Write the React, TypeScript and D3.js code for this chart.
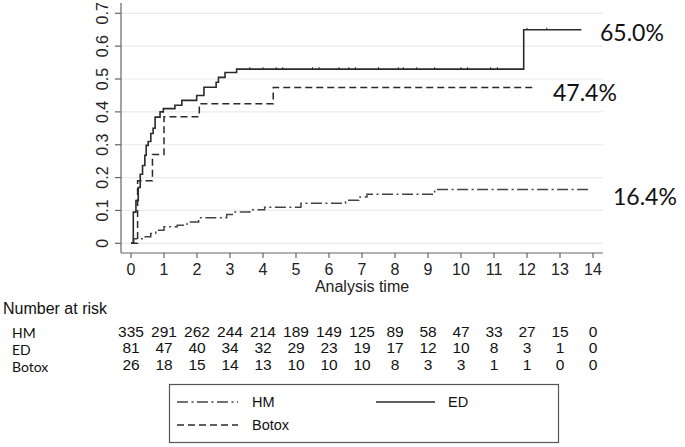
import React from "react";
import * as d3 from "d3";

// ---- Data ----
const xTicks = [0, 1, 2, 3, 4, 5, 6, 7, 8, 9, 10, 11, 12, 13, 14];
const yTicks = [0, 0.1, 0.2, 0.3, 0.4, 0.5, 0.6, 0.7];

const edTimes = [0, 0.07, 0.15, 0.22, 0.28, 0.35, 0.42, 0.46, 0.52, 0.6, 0.67, 0.73, 0.88, 0.98, 1.33, 1.54, 1.99, 2.21, 2.58, 2.65, 2.85, 3.2, 11.9];
const edValues = [0, 0.095, 0.13, 0.17, 0.21, 0.237, 0.268, 0.298, 0.31, 0.334, 0.35, 0.384, 0.4, 0.41, 0.42, 0.435, 0.45, 0.475, 0.49, 0.505, 0.52, 0.53, 0.65];
const edEnd = 13.65;
const edCensor = [3.6, 4.0, 4.4, 4.6, 5.5, 5.7, 6.3, 6.6, 6.8, 7.5, 8.1, 8.25, 8.66, 9.2, 10.0, 10.2, 10.9, 11.1, 12.0, 12.6];

const botoxTimes = [0, 0.2, 0.65, 1.0, 2.07, 4.31];
const botoxValues = [0, 0.19, 0.27, 0.385, 0.425, 0.474];
const botoxEnd = 12.2;

const hmTimes = [0, 0.08, 0.4, 0.6, 0.75, 1.0, 1.4, 1.7, 2.05, 2.9, 3.1, 3.6, 4.05, 5.15, 6.5, 6.9, 7.15, 9.2];
const hmValues = [0, 0.014, 0.02, 0.03, 0.04, 0.05, 0.055, 0.065, 0.078, 0.088, 0.095, 0.102, 0.11, 0.122, 0.131, 0.141, 0.149, 0.164];
const hmEnd = 13.86;

const riskGroups = ["HM", "ED", "Botox"];
const riskHM = [335, 291, 262, 244, 214, 189, 149, 125, 89, 58, 47, 33, 27, 15, 0];
const riskED = [81, 47, 40, 34, 32, 29, 23, 19, 17, 12, 10, 8, 3, 1, 0];
const riskBotox = [26, 18, 15, 14, 13, 10, 10, 10, 8, 3, 3, 1, 1, 0, 0];

const endLabels = ["65.0%", "47.4%", "16.4%"];

const W = 685;
const H = 447;
const AX = "'Liberation Sans', Arial, Helvetica, sans-serif";
const CAL = "Lato, 'Open Sans', sans-serif";

export default function App() {
  const x = d3.scaleLinear().domain([0, 14]).range([131, 593]);
  const y = d3.scaleLinear().domain([0, 0.7]).range([243.3, 13.3]);
  const line = d3
    .line<[number, number]>()
    .x((d) => x(d[0]))
    .y((d) => y(d[1]))
    .curve(d3.curveStepAfter);

  const mk = (ts: number[], vs: number[], end: number): [number, number][] => {
    const pts: [number, number][] = ts.map((t, i) => [t, vs[i]]);
    pts.push([end, vs[vs.length - 1]]);
    return pts;
  };

  const edPath = line(mk(edTimes, edValues, edEnd)) || "";
  const botoxPath = line(mk(botoxTimes, botoxValues, botoxEnd)) || "";
  const hmPath = line(mk(hmTimes, hmValues, hmEnd)) || "";

  const edAt = (t: number) => {
    let v = 0;
    edTimes.forEach((tt, i) => {
      if (tt <= t) v = edValues[i];
    });
    return v;
  };

  const riskRows = [riskHM, riskED, riskBotox];
  const rowBase = [336.5, 353.2, 370];
  const labelBase = [338, 355, 372];

  const lineColor = "#2a2a2a";
  const hmDash = "11,3.5,2,3.5";
  const botoxDash = "7,4";

  const endLabelPos = [
    { x: 600, y: 41, v: 0.65 },
    { x: 553, y: 101, v: 0.474 },
    { x: 613, y: 205, v: 0.164 },
  ];

  return (
    <svg width={W} height={H} style={{ position: "absolute", left: 0, top: 0, background: "#fff" }}>
      <rect x={0} y={0} width={W} height={H} fill="#fff" />
      {/* grid */}
      {yTicks.map((t) => (
        <line key={"g" + t} x1={121} x2={603} y1={y(t)} y2={y(t)} stroke="#ebebeb" strokeWidth={1.2} />
      ))}
      {/* axes */}
      <line x1={121} x2={121} y1={3} y2={253} stroke="#666" strokeWidth={1.2} />
      <line x1={121} x2={603} y1={253} y2={253} stroke="#666" strokeWidth={1.2} />
      {yTicks.map((t) => (
        <g key={"yt" + t}>
          <line x1={115} x2={121} y1={y(t)} y2={y(t)} stroke="#666" strokeWidth={1.2} />
          <text
            transform={`translate(107.5,${y(t)}) rotate(-90)`}
            textAnchor="middle"
            fontFamily={AX}
            fontSize={16}
            fill="#222"
          >
            {t === 0 ? "0" : d3.format(".1f")(t)}
          </text>
        </g>
      ))}
      {xTicks.map((t) => (
        <g key={"xt" + t}>
          <line x1={x(t)} x2={x(t)} y1={253} y2={258} stroke="#666" strokeWidth={1.2} />
          <text x={x(t)} y={275} textAnchor="middle" fontFamily={AX} fontSize={16} fill="#222">
            {t}
          </text>
        </g>
      ))}
      <text x={362} y={292} textAnchor="middle" fontFamily={AX} fontSize={16} fill="#222">
        Analysis time
      </text>

      {/* curves */}
      <path d={hmPath} fill="none" stroke="#444" strokeWidth={1.5} strokeDasharray={hmDash} />
      <path d={botoxPath} fill="none" stroke={lineColor} strokeWidth={1.5} strokeDasharray={botoxDash} />
      <path d={edPath} fill="none" stroke={lineColor} strokeWidth={1.6} />
      {edCensor.map((t, i) => (
        <line key={"c" + i} x1={x(t)} x2={x(t)} y1={y(edAt(t)) - 2} y2={y(edAt(t))} stroke={lineColor} strokeWidth={1} />
      ))}

      {/* end labels */}
      {endLabels.map((lab, i) => (
        <text key={lab} x={endLabelPos[i].x} y={endLabelPos[i].y} fontFamily={CAL} fontSize={23} fill="#111">
          {lab}
        </text>
      ))}

      {/* number at risk */}
      <text x={3} y={314} fontFamily={AX} fontSize={16} fill="#111">
        Number at risk
      </text>
      {riskGroups.map((g, i) => (
        <text key={g} x={12} y={labelBase[i]} fontFamily={CAL} fontSize={14} fill="#111">
          {g}
        </text>
      ))}
      {riskRows.map((row, r) =>
        row.map((v, i) => (
          <text key={r + "-" + i} x={x(xTicks[i])} y={rowBase[r]} textAnchor="middle" fontFamily={AX} fontSize={15.5} fill="#111">
            {v}
          </text>
        ))
      )}

      {/* legend */}
      <rect x={169.5} y={384.5} width={389} height={58} fill="none" stroke="#555" strokeWidth={1.2} />
      <line x1={177} x2={238} y1={402} y2={402} stroke="#444" strokeWidth={1.5} strokeDasharray={hmDash} />
      <text x={252} y={407} fontFamily={AX} fontSize={14.5} fill="#111">HM</text>
      <line x1={177} x2={238} y1={425} y2={425} stroke={lineColor} strokeWidth={1.5} strokeDasharray={botoxDash} />
      <text x={252} y={430} fontFamily={AX} fontSize={14.5} fill="#111">Botox</text>
      <line x1={376} x2={435} y1={402} y2={402} stroke={lineColor} strokeWidth={1.5} />
      <text x={448} y={407} fontFamily={AX} fontSize={14.5} fill="#111">ED</text>
    </svg>
  );
}
